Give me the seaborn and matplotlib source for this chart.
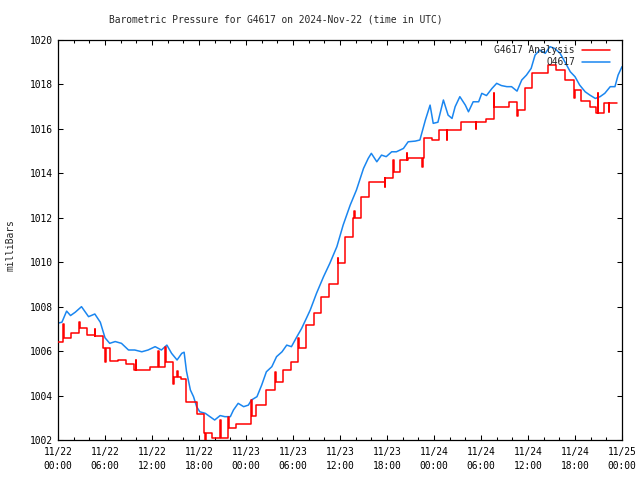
import numpy as np
import pandas as pd
import matplotlib
matplotlib.use("Agg")
import matplotlib.pyplot as plt
from matplotlib.lines import Line2D
import seaborn as sns

# ---------------- data (hours since 11/22 00:00 UTC, millibars) ----------------
obs_hours = [0, 0.5, 1.1, 1.6, 2.2, 3.0, 3.9, 4.7, 5.4, 6.0, 6.6, 7.3, 8.1, 9.0, 9.8,
             10.7, 11.5, 12.4, 13.2, 13.9, 14.5, 15.2, 15.8, 16.1, 16.4, 16.9, 17.3,
             17.7, 18.1, 18.8, 19.4, 20.0, 20.7, 21.3, 22.0, 22.4, 23.0, 23.7, 24.3,
             24.7, 25.4, 26.0, 26.6, 27.3, 27.9, 28.6, 29.2, 29.8, 30.5, 31.1, 31.7,
             32.2, 33.0, 33.9, 34.7, 35.6, 36.4, 37.3, 38.1, 39.0, 39.6, 40.0, 40.7,
             41.3, 41.9, 42.6, 43.2, 44.1, 44.7, 45.6, 46.2, 46.9, 47.5, 47.9, 48.5,
             49.2, 49.8, 50.3, 50.7, 51.3, 52.0, 52.4, 53.0, 53.7, 54.1, 54.7, 55.4,
             56.0, 56.6, 57.3, 57.9, 58.6, 59.2, 59.8, 60.4, 60.9, 61.5, 62.2, 62.8,
             63.4, 64.1, 64.7, 65.4, 66.0, 66.6, 67.3, 67.9, 68.6, 69.2, 69.8, 70.5,
             71.1, 71.5, 72.0]
obs_values = [1007.26, 1007.3, 1007.8, 1007.6, 1007.75, 1008.0, 1007.55, 1007.67, 1007.3,
              1006.6, 1006.35, 1006.43, 1006.35, 1006.05, 1006.05, 1005.97, 1006.05,
              1006.2, 1006.05, 1006.27, 1005.9, 1005.6, 1005.9, 1005.95, 1005.1, 1004.25,
              1003.95, 1003.5, 1003.27, 1003.2, 1003.05, 1002.9, 1003.1, 1003.05, 1003.05,
              1003.35, 1003.65, 1003.5, 1003.57, 1003.8, 1003.95, 1004.47, 1005.07,
              1005.3, 1005.75, 1005.97, 1006.27, 1006.2, 1006.65, 1007.02, 1007.47,
              1007.85, 1008.6, 1009.35, 1009.95, 1010.7, 1011.67, 1012.57, 1013.25,
              1014.22, 1014.67, 1014.9, 1014.52, 1014.82, 1014.75, 1014.97, 1014.97,
              1015.12, 1015.42, 1015.45, 1015.5, 1016.4, 1017.07, 1016.25, 1016.3,
              1017.3, 1016.62, 1016.47, 1017.0, 1017.45, 1017.07, 1016.77, 1017.22,
              1017.22, 1017.6, 1017.5, 1017.82, 1018.05, 1017.95, 1017.9, 1017.9,
              1017.7, 1018.2, 1018.42, 1018.72, 1019.32, 1019.55, 1019.4, 1019.7,
              1019.62, 1019.4, 1019.02, 1018.57, 1018.35, 1017.97, 1017.67, 1017.52,
              1017.37, 1017.45, 1017.6, 1017.9, 1017.9, 1018.42, 1018.8]

# hourly analysis values (step changes shortly before each hour)
ana_step_hours = [0, 0.7, 1.7, 2.7, 3.7, 4.7, 5.7, 6.7, 7.7, 8.7, 9.7, 10.7, 11.7, 12.7,
                  13.7, 14.7, 15.7, 16.4, 17.7, 18.7, 19.7, 20.7, 21.7, 22.7, 23.7, 24.7,
                  25.3, 26.5, 27.7, 28.7, 29.7, 30.7, 31.6, 32.7, 33.6, 34.6, 35.7, 36.7,
                  37.7, 38.7, 39.7, 40.7, 41.7, 42.8, 43.7, 44.7, 45.7, 46.7, 47.7, 48.6,
                  49.6, 50.6, 51.5, 52.6, 53.6, 54.6, 55.6, 56.6, 57.6, 58.6, 59.6, 60.5,
                  61.6, 62.6, 63.6, 64.7, 65.9, 66.8, 67.9, 68.7, 69.7, 70.8, 71.4]
ana_values = [1006.4, 1006.58, 1006.8, 1007.04, 1006.72, 1006.68, 1006.14, 1005.55,
              1005.6, 1005.42, 1005.15, 1005.15, 1005.28, 1005.28, 1005.52, 1004.85,
              1004.75, 1003.7, 1003.15, 1002.3, 1002.1, 1002.1, 1002.55, 1002.72,
              1002.72, 1003.1, 1003.57, 1004.25, 1004.62, 1005.15, 1005.5, 1006.12,
              1007.17, 1007.7, 1008.45, 1009.02, 1009.95, 1011.15, 1011.97, 1012.95,
              1013.62, 1013.62, 1013.77, 1014.07, 1014.6, 1014.67, 1014.7, 1015.57,
              1015.5, 1015.95, 1015.95, 1015.95, 1016.32, 1016.32, 1016.32, 1016.43,
              1017.0, 1017.0, 1017.2, 1016.85, 1017.82, 1018.5, 1018.5, 1018.87,
              1018.65, 1018.2, 1017.75, 1017.27, 1017.0, 1016.7, 1017.15, 1017.15,
              1017.15]

# brief excursions within the analysis steps
spike_hours = [0.7, 2.7, 4.7, 6.0, 9.9, 12.8, 13.7, 14.7, 15.2, 18.8, 20.7, 21.7, 24.7,
               27.7, 30.7, 31.6, 35.7, 37.8, 41.7, 42.8, 44.5, 46.5, 49.6, 53.3, 55.6,
               58.6, 65.9, 68.9, 70.3]
spike_values = [1007.2, 1007.3, 1007.0, 1005.5, 1005.6, 1006.0, 1006.2, 1004.5, 1005.1,
                1002.0, 1002.9, 1003.05, 1003.8, 1005.07, 1006.6, 1006.9, 1010.2,
                1012.3, 1013.4, 1014.6, 1014.9, 1014.3, 1015.5, 1016.0, 1017.6,
                1016.6, 1017.4, 1017.6, 1016.75]

tick_hours = list(range(0, 73, 6))
tick_labels = ["11/22\n00:00", "11/22\n06:00", "11/22\n12:00", "11/22\n18:00",
               "11/23\n00:00", "11/23\n06:00", "11/23\n12:00", "11/23\n18:00",
               "11/24\n00:00", "11/24\n06:00", "11/24\n12:00", "11/24\n18:00",
               "11/25\n00:00"]

# ---------------- build tables ----------------
obs = pd.DataFrame({"hour": obs_hours, "mb": obs_values})

rows = [(t, v, 0) for t, v in zip(ana_step_hours, ana_values)]
step_t = np.array(ana_step_hours)
step_v = np.array(ana_values)
for t, v in zip(spike_hours, spike_values):
    base = step_v[np.searchsorted(step_t, t, side="right") - 1]
    rows.append((t, v, 1))
    rows.append((t + 0.07, base, 2))
ana = pd.DataFrame(rows, columns=["hour", "mb", "order"])
ana = ana.sort_values(["hour", "order"], kind="mergesort").reset_index(drop=True)

# ---------------- plot ----------------
FS = 6.9
sns.set_style("ticks")
plt.rcParams["font.family"] = ["DejaVu Sans Mono", "DejaVu Sans"]
plt.rcParams["font.size"] = FS

fig = plt.figure(figsize=(6.4, 4.8), dpi=100)
ax = fig.add_axes([58 / 640, 40 / 480, 564 / 640, 400 / 480])

RED = "#ff0000"
BLUE = "#1a86f0"

sns.lineplot(data=ana, x="hour", y="mb", ax=ax, color=RED, linewidth=1.1,
             drawstyle="steps-post", estimator=None, sort=False, zorder=3)
sns.lineplot(data=obs, x="hour", y="mb", ax=ax, color=BLUE, linewidth=1.1,
             estimator=None, sort=False, zorder=2)

ax.set_xlim(0, 72)
ax.set_ylim(1002, 1020)
ax.set_xticks(tick_hours)
ax.set_xticks(range(0, 73, 2), minor=True)
ax.set_xticklabels(tick_labels, linespacing=1.55)
ax.set_yticks(range(1002, 1021, 2))
ax.set_yticklabels([str(v) for v in range(1002, 1021, 2)])
ax.set_xlabel("")
ax.set_ylabel("")

ax.tick_params(which="both", direction="in", top=True, right=True, width=0.75,
               colors="black", labelsize=FS)
ax.tick_params(which="major", length=3.8, pad=4)
ax.tick_params(which="minor", length=2.0)
ax.tick_params(axis="x", which="major", pad=5)
for sp in ax.spines.values():
    sp.set_visible(True)
    sp.set_color("black")
    sp.set_linewidth(0.9)

fig.text(276 / 640, 1 - 20 / 480,
         "Barometric Pressure for G4617 on 2024-Nov-22 (time in UTC)",
         ha="center", va="center", fontsize=FS)
fig.text(11 / 640, 0.49, "milliBars", rotation=90, ha="center", va="center",
         fontsize=FS)

# legend (gnuplot style: text right-aligned, sample line to the right)
for i, (lab, col) in enumerate([("G4617 Analysis", RED), ("O4617", BLUE)]):
    y = 1 - (50 + 12 * i) / 480
    fig.text(575 / 640, y, lab, ha="right", va="center", fontsize=FS, zorder=5)
    fig.add_artist(Line2D([582 / 640, 610 / 640], [y, y], color=col, linewidth=1.1))

fig.savefig("out.png", dpi=100, facecolor="white")
